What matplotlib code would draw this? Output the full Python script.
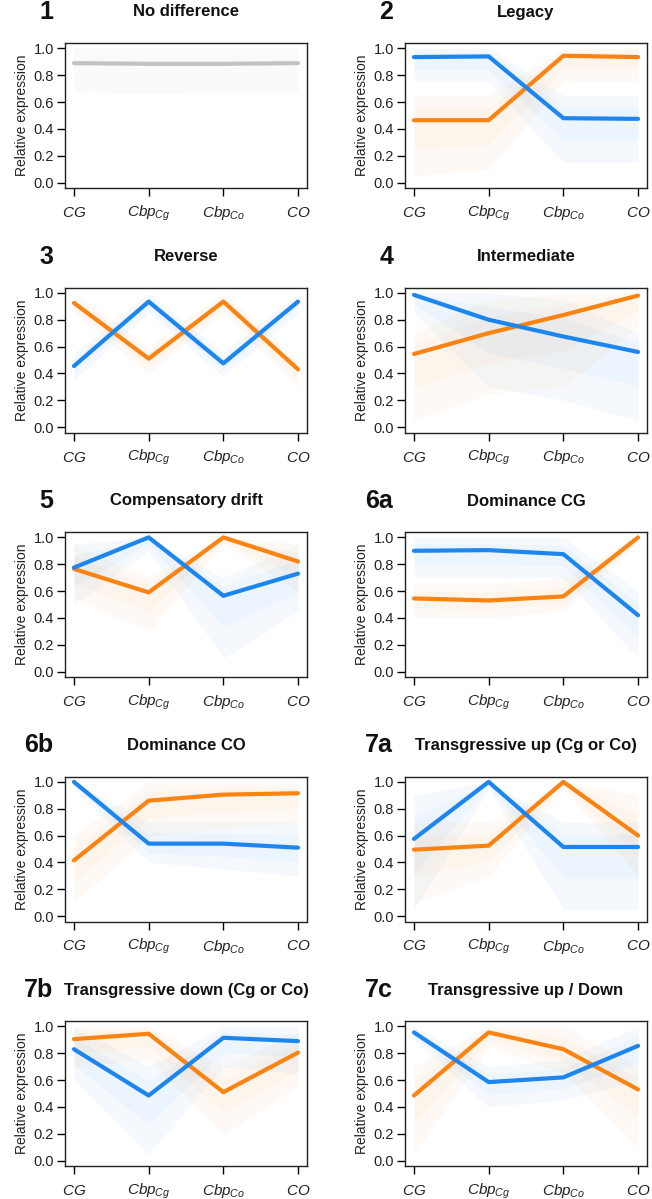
import matplotlib
matplotlib.use("Agg")
import matplotlib.pyplot as plt

plt.rcParams['font.family'] = ['Liberation Sans', 'DejaVu Sans']
plt.rcParams['mathtext.fontset'] = 'custom'
plt.rcParams['mathtext.it'] = 'Liberation Sans:italic'
plt.rcParams['mathtext.rm'] = 'Liberation Sans'

# ---------------- data ----------------
categories = [r'$CG$', r'$Cbp_{Cg}$', r'$Cbp_{Co}$', r'$CO$']
panel_ids = ['1', '2', '3', '4', '5', '6a', '6b', '7a', '7b', '7c']
panel_titles = ['No difference', 'Legacy', 'Reverse', 'Intermediate',
                'Compensatory drift', 'Dominance CG', 'Dominance CO',
                'Transgressive up (Cg or Co)', 'Transgressive down (Cg or Co)',
                'Transgressive up / Down']
yticks = [0.0, 0.2, 0.4, 0.6, 0.8, 1.0]

# mean profiles (None = absent)
blue_mean = [None,
             [0.935, 0.94, 0.48, 0.475],
             [0.455, 0.935, 0.475, 0.935],
             [0.985, 0.80, 0.675, 0.56],
             [0.775, 1.00, 0.565, 0.73],
             [0.90, 0.905, 0.875, 0.42],
             [1.00, 0.54, 0.54, 0.51],
             [0.575, 1.00, 0.515, 0.515],
             [0.83, 0.485, 0.915, 0.89],
             [0.955, 0.585, 0.62, 0.855]]
orange_mean = [None,
               [0.465, 0.465, 0.945, 0.935],
               [0.925, 0.51, 0.935, 0.43],
               [0.545, 0.70, 0.835, 0.98],
               [0.765, 0.59, 1.00, 0.82],
               [0.545, 0.53, 0.56, 1.00],
               [0.415, 0.86, 0.905, 0.915],
               [0.495, 0.525, 1.00, 0.60],
               [0.905, 0.945, 0.51, 0.805],
               [0.485, 0.955, 0.83, 0.53]]
gray_mean = [0.89, 0.885, 0.885, 0.89]
gray_lo = [0.68, 0.66, 0.68, 0.68]
gray_hi = [1.00, 1.00, 1.00, 1.00]

# outer envelopes of the individual gene profiles
blue_lo = [None,
           [0.75, 0.75, 0.15, 0.15],
           [0.35, 0.85, 0.38, 0.85],
           [0.85, 0.30, 0.20, 0.05],
           [0.50, 0.90, 0.10, 0.45],
           [0.70, 0.70, 0.70, 0.10],
           [0.95, 0.40, 0.35, 0.30],
           [0.05, 0.95, 0.05, 0.05],
           [0.60, 0.05, 0.70, 0.65],
           [0.90, 0.40, 0.45, 0.60]]
blue_hi = [None,
           [1.00, 1.00, 0.65, 0.65],
           [0.55, 1.00, 0.55, 1.00],
           [1.00, 1.00, 0.95, 0.70],
           [0.95, 1.00, 0.70, 0.95],
           [1.00, 1.00, 1.00, 0.60],
           [1.00, 0.70, 0.70, 0.70],
           [0.90, 1.00, 0.70, 0.70],
           [1.00, 0.70, 1.00, 1.00],
           [1.00, 0.70, 0.75, 1.00]]
orange_lo = [None,
             [0.05, 0.10, 0.75, 0.75],
             [0.85, 0.40, 0.85, 0.30],
             [0.05, 0.25, 0.30, 0.75],
             [0.55, 0.30, 0.95, 0.60],
             [0.40, 0.40, 0.45, 0.95],
             [0.10, 0.60, 0.65, 0.70],
             [0.10, 0.30, 0.95, 0.30],
             [0.70, 0.75, 0.20, 0.55],
             [0.05, 0.85, 0.65, 0.10]]
orange_hi = [None,
             [0.65, 0.65, 1.00, 1.00],
             [1.00, 0.60, 1.00, 0.50],
             [0.70, 0.95, 1.00, 1.00],
             [0.95, 0.70, 1.00, 0.95],
             [0.65, 0.65, 0.70, 1.00],
             [0.60, 1.00, 1.00, 1.00],
             [0.70, 0.70, 1.00, 0.90],
             [1.00, 1.00, 0.70, 0.95],
             [0.70, 1.00, 1.00, 0.70]]

BLUE = '#1C86EE'
ORANGE = '#FB8311'
GRAY = '#C2C2C2'

# ---------------- layout ----------------
W, H = 652, 1199
fig = plt.figure(figsize=(W / 100, H / 100), dpi=100)

col_left = [65, 405]
ax_w = 242
ax_h = 145
row_top0 = 43
row_step = 244.5

xs = [1, 2, 3, 4]
for i in range(10):
    r, c = divmod(i, 2)
    top = row_top0 + r * row_step
    left = col_left[c]
    ax = fig.add_axes([left / W, 1 - (top + ax_h) / H, ax_w / W, ax_h / H])
    ax.set_xlim(0.88, 4.12)
    ax.set_ylim(-0.04, 1.04)

    if i == 0:
        ax.fill_between(xs, gray_lo, gray_hi, color=GRAY, alpha=0.08, lw=0)
        ax.plot(xs, gray_mean, color=GRAY, lw=3, solid_capstyle='round')
    else:
        # faint cloud: outer envelope plus a denser core around the mean
        ax.fill_between(xs, orange_lo[i], orange_hi[i], color=ORANGE, alpha=0.045, lw=0)
        ax.fill_between(xs, blue_lo[i], blue_hi[i], color=BLUE, alpha=0.045, lw=0)
        ax.fill_between(xs,
                        [(m + l) / 2 for m, l in zip(orange_mean[i], orange_lo[i])],
                        [(m + h) / 2 for m, h in zip(orange_mean[i], orange_hi[i])],
                        color=ORANGE, alpha=0.04, lw=0)
        ax.fill_between(xs,
                        [(m + l) / 2 for m, l in zip(blue_mean[i], blue_lo[i])],
                        [(m + h) / 2 for m, h in zip(blue_mean[i], blue_hi[i])],
                        color=BLUE, alpha=0.04, lw=0)
        ax.plot(xs, orange_mean[i], color=ORANGE, lw=3, solid_capstyle='round')
        ax.plot(xs, blue_mean[i], color=BLUE, lw=3, solid_capstyle='round')

    ax.set_yticks(yticks)
    ax.set_yticklabels([f'{v:.1f}' for v in yticks], fontsize=10.5, color='#222222')
    ax.set_xticks(xs)
    ax.set_xticklabels(categories, fontsize=11, color='#222222')
    for lab in ax.get_xticklabels():
        lab.set_va('center')
    ax.tick_params(axis='x', length=6, width=1, pad=12, direction='out')
    ax.tick_params(axis='y', length=6, width=1, pad=2, direction='out')
    for s in ax.spines.values():
        s.set_linewidth(1.0)
        s.set_color('#222222')
    ax.set_ylabel('Relative expression', fontsize=10, color='#222222', labelpad=3)

    # title and panel number
    ty = 1 - (top - 31) / H
    fig.text((left + ax_w / 2) / W, ty, panel_titles[i], ha='center', va='center',
             fontsize=12, fontweight='bold', color='#111111')
    fig.text((left - 12) / W, ty, panel_ids[i], ha='right', va='center',
             fontsize=18, fontweight='bold', color='#111111')

fig.savefig('out.png', dpi=100)
